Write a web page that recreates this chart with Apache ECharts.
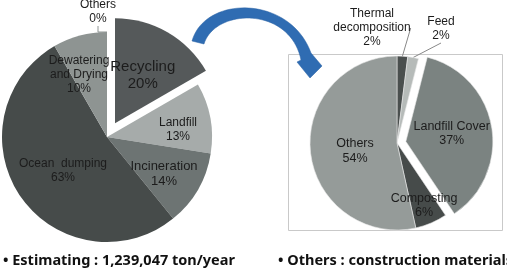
<!DOCTYPE html>
<html>
<head>
<meta charset="utf-8">
<script src="https://cdn.jsdelivr.net/npm/echarts@6/dist/echarts.min.js"></script>
<style>html,body{margin:0;padding:0;background:#fff;}#c{width:507px;height:271px;}</style>
</head>
<body>
<div id="c"></div>
<script>
// ---- data ----
const leftCategories = ['Recycling', 'Landfill', 'Incineration', 'Ocean  dumping', 'Dewatering\nand Drying', 'Others'];
const leftValues = [20, 13, 14, 63, 10, 0];
const rightCategories = ['Thermal\ndecomposition', 'Feed', 'Landfill Cover', 'Composting', 'Others'];
const rightValues = [2, 2, 37, 6, 54];
const noteLeft = '• Estimating : 1,239,047 ton/year';
const noteRight = '• Others : construction materials';

// ---- styles ----
const leftColors = ['#55595a', '#a6abaa', '#6d7473', '#464b4a', '#8e9492', '#8e9492'];
const rightColors = ['#4a4f4e', '#b6bbb9', '#7b8381', '#464b4a', '#959b99'];
const leftFont = [15, 12, 13, 12, 12, 12];
const rightFont = [12, 12, 12.5, 12.5, 12.5];
const labelPos = [
  [[154, 68.5], [178, 129.5], [164, 173.5], [63, 171], [79, 74.5], [98, 12]],
  [[372, 28], [441, 29], [451, 148], [424, 205.5], [355, 151]]
];

function bez(p0, p1, p2, p3, n) {
  const out = [];
  for (let i = 0; i <= n; i++) {
    const t = i / n, u = 1 - t;
    out.push([
      u*u*u*p0[0] + 3*u*u*t*p1[0] + 3*u*t*t*p2[0] + t*t*t*p3[0],
      u*u*u*p0[1] + 3*u*u*t*p1[1] + 3*u*t*t*p2[1] + t*t*t*p3[1]
    ]);
  }
  return out;
}
const arrowPts = []
  .concat(bez([192, 41], [205, -5], [290, -5], [311, 53], 40))
  .concat([[322, 66], [310, 78], [297, 62], [301, 60]])
  .concat(bez([301, 60], [290, 6], [215, 8], [204, 44], 40));

function mkData(cats, vals, colors, fonts, selIdx, outsideIdx) {
  return cats.map((c, i) => ({
    name: c,
    value: vals[i],
    selected: i === selIdx,
    itemStyle: { color: colors[i] },
    label: {
      fontSize: fonts[i],
      lineHeight: fonts[i] + 2,
      position: outsideIdx.indexOf(i) >= 0 ? 'outside' : 'inside'
    },
    labelLine: { show: outsideIdx.indexOf(i) >= 0 }
  }));
}

const chart = echarts.init(document.getElementById('c'), null, { renderer: 'canvas' });
const labelCommon = {
  show: true,
  color: '#1c1c1c',
  fontFamily: '"Liberation Sans"',
  align: 'center',
  formatter: '{b}\n{c}%'
};
chart.setOption({
  animation: false,
  graphic: [
    { type: 'rect', z: 0, shape: { x: 288.5, y: 54.5, width: 214, height: 176 }, style: { fill: '#fff', stroke: '#c9c9c9', lineWidth: 1 } },
    { type: 'polygon', z: 10, shape: { points: arrowPts }, style: { fill: '#2f6cb2', stroke: '#2a62a4', lineWidth: 0.5 } },
    { type: 'text', z: 10, left: 3, top: 253, style: { text: noteLeft, font: 'bold 14.5px "Noto Sans"', fill: '#111' } },
    { type: 'text', z: 10, left: 278, top: 253, style: { text: noteRight, font: 'bold 14.5px "Noto Sans"', fill: '#111' } }
  ],
  series: [
    {
      type: 'pie', z: 3,
      center: [107, 137], radius: 105,
      startAngle: 90, clockwise: true,
      selectedMode: 'multiple', selectedOffset: 16,
      avoidLabelOverlap: false,
      itemStyle: { borderWidth: 0 },
      label: labelCommon,
      emphasis: { disabled: true },
      labelLayout: function (p) { const q = labelPos[0][p.dataIndex]; return { x: q[0], y: q[1], align: 'center', verticalAlign: 'middle' }; },
      data: mkData(leftCategories, leftValues, leftColors, leftFont, 0, [5])
    },
    {
      type: 'pie', z: 3,
      center: [397, 143], radius: 87,
      startAngle: 90, clockwise: true,
      selectedMode: 'multiple', selectedOffset: 9,
      avoidLabelOverlap: false,
      itemStyle: { borderWidth: 0.6, borderColor: '#e8e8e8' },
      label: labelCommon,
      labelLine: { length: 12, length2: 0, lineStyle: { color: '#888', width: 1 } },
      emphasis: { disabled: true },
      labelLayout: function (p) { const q = labelPos[1][p.dataIndex]; return { x: q[0], y: q[1], align: 'center', verticalAlign: 'middle' }; },
      data: mkData(rightCategories, rightValues, rightColors, rightFont, 2, [0, 1])
    }
  ]
});
</script>
</body>
</html>
